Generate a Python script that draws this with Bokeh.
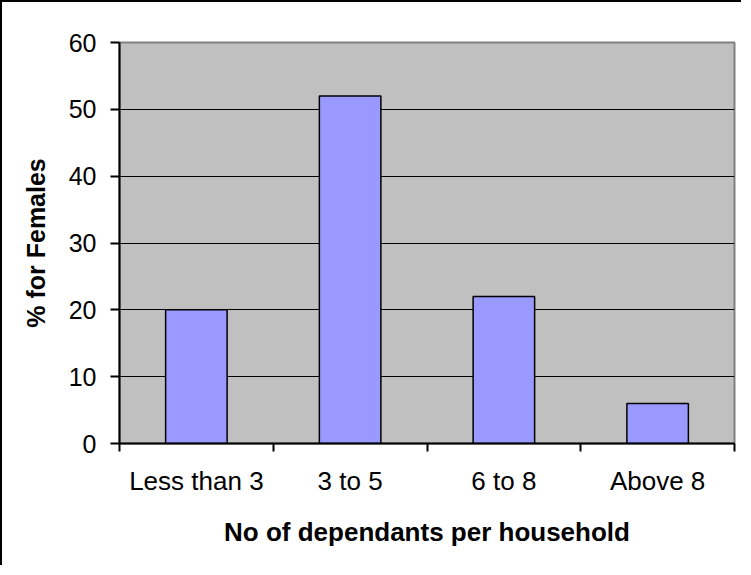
from bokeh.plotting import figure
from bokeh.models import FixedTicker, Range1d, ColumnDataSource
from bokeh.embed import file_html
from bokeh.resources import INLINE

categories = ["Less than 3", "3 to 5", "6 to 8", "Above 8"]
values = [20, 52, 22, 6]
y_ticks = [0, 10, 20, 30, 40, 50, 60]

xpos = [i + 0.5 for i in range(len(categories))]
src = ColumnDataSource(dict(x=xpos, top=values, cat=categories))

W, H = 741, 565
p = figure(width=W, height=H, output_backend="svg", toolbar_location=None,
           x_range=Range1d(0, len(categories)), y_range=Range1d(0, 60),
           min_border_left=117, min_border_right=9, min_border_top=40, min_border_bottom=124,
           background_fill_color="#C0C0C0", border_fill_color="white")
p.styles = {"border-top": "2px solid black", "border-left": "2px solid black"}

p.vbar(x="x", top="top", width=0.4, bottom=0, source=src,
       fill_color="#9999FF", line_color="black", line_width=1.5)

p.outline_line_color = "#808080"
p.outline_line_width = 2

# y axis
p.yaxis.ticker = FixedTicker(ticks=y_ticks)
p.yaxis.axis_line_width = 2
p.yaxis.major_tick_out = 9
p.yaxis.major_tick_in = 0
p.yaxis.major_tick_line_width = 2
p.yaxis.minor_tick_out = 0
p.yaxis.minor_tick_in = 0
p.yaxis.major_label_text_font = "Liberation Sans"
p.yaxis.major_label_text_font_size = "25px"
p.yaxis.major_label_text_color = "black"
p.yaxis.major_label_standoff = 14
p.yaxis.axis_label = "% for Females"
p.yaxis.axis_label_text_font = "Liberation Sans"
p.yaxis.axis_label_text_font_style = "bold"
p.yaxis.axis_label_text_font_size = "25px"
p.yaxis.axis_label_text_color = "black"
p.yaxis.axis_label_standoff = 16

# x axis
p.xaxis.ticker = FixedTicker(ticks=xpos, minor_ticks=list(range(len(categories) + 1)))
p.xaxis.major_label_overrides = {x: c for x, c in zip(xpos, categories)}
p.xaxis.axis_line_width = 2
p.xaxis.major_tick_out = 0
p.xaxis.major_tick_in = 0
p.xaxis.minor_tick_out = 8
p.xaxis.minor_tick_in = 0
p.xaxis.minor_tick_line_width = 2
p.xaxis.minor_tick_line_color = "black"
p.xaxis.major_label_text_font = "Liberation Sans"
p.xaxis.major_label_text_font_size = "26px"
p.xaxis.major_label_text_color = "black"
p.xaxis.major_label_standoff = 14
p.xaxis.axis_label = "No of dependants per household"
p.xaxis.axis_label_text_font = "Liberation Sans"
p.xaxis.axis_label_text_font_style = "bold"
p.xaxis.axis_label_text_font_size = "26px"
p.xaxis.axis_label_text_color = "black"
p.xaxis.axis_label_standoff = 18

p.xgrid.visible = False
p.ygrid.ticker = FixedTicker(ticks=[10, 20, 30, 40, 50])
p.ygrid.grid_line_color = "black"
p.ygrid.grid_line_width = 1

open("out.html", "w").write(file_html(p, INLINE))
